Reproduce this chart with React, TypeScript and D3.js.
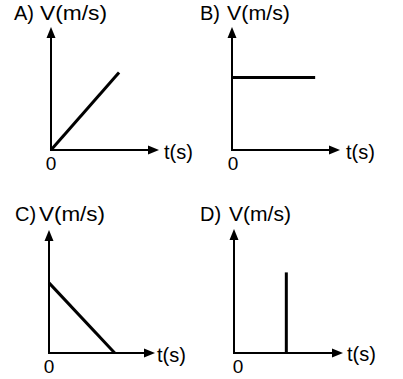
import React from "react";
import * as d3 from "d3";

const panelLabels = ["A)", "B)", "C)", "D)"];
const yAxisLabel = "V(m/s)";
const xAxisLabel = "t(s)";
const originLabel = "0";

// series values (arbitrary units, domain 0..10)
const seriesT = [
  [0, 6.3],
  [0, 7.7],
  [0, 6.2],
  [4.8, 4.8],
];
const seriesV = [
  [0, 6.3],
  [5.9, 5.9],
  [5.7, 0],
  [0, 6.5],
];

// layout (pixels)
const panels = [
  { ox: 51, oy: 150, xTip: 159, yTip: 27, lab: [14, 20], vlab: [40, 20, 67], tlab: [164, 159], zero: [51, 170] },
  { ox: 232, oy: 150, xTip: 340, yTip: 27, lab: [200, 20], vlab: [227, 20, 63], tlab: [346, 159], zero: [233, 170] },
  { ox: 49, oy: 353, xTip: 155, yTip: 230, lab: [15, 221], vlab: [39, 221, 66], tlab: [157, 362], zero: [49, 373] },
  { ox: 234, oy: 353, xTip: 343, yTip: 229, lab: [200, 221], vlab: [229, 221, 62], tlab: [347, 361], zero: [238, 373] },
];

const FONT = "'Liberation Sans', Arial, sans-serif";

export default function App() {
  const headLen = 11;
  const headHalf = 4.5;
  return (
    <svg width={403} height={379} style={{ position: "absolute", left: 0, top: 0, background: "#fff" }}>
      <rect width={403} height={379} fill="#fff" />
      {panels.map((p, i) => {
        const xs = d3.scaleLinear().domain([0, 10]).range([p.ox, p.xTip]);
        const ys = d3.scaleLinear().domain([0, 10]).range([p.oy, p.yTip]);
        const line = d3
          .line<number>()
          .x((_, j) => xs(seriesT[i][j]))
          .y((_, j) => ys(seriesV[i][j]));
        return (
          <g key={i}>
            {/* y axis */}
            <line x1={p.ox} y1={p.oy + 1} x2={p.ox} y2={p.yTip + headLen - 1} stroke="#000" strokeWidth={2} />
            <path
              d={`M${p.ox},${p.yTip} L${p.ox - headHalf},${p.yTip + headLen} L${p.ox + headHalf},${p.yTip + headLen} Z`}
              fill="#000"
            />
            {/* x axis */}
            <line x1={p.ox - 1} y1={p.oy} x2={p.xTip - headLen + 1} y2={p.oy} stroke="#000" strokeWidth={2} />
            <path
              d={`M${p.xTip},${p.oy} L${p.xTip - headLen},${p.oy - headHalf} L${p.xTip - headLen},${p.oy + headHalf} Z`}
              fill="#000"
            />
            {/* data */}
            <path d={line(seriesT[i]) || ""} fill="none" stroke="#000" strokeWidth={3} />
            {/* labels */}
            <text x={p.lab[0]} y={p.lab[1]} fontFamily={FONT} fontSize={20} fill="#000">
              {panelLabels[i]}
            </text>
            <text
              x={p.vlab[0]}
              y={p.vlab[1]}
              fontFamily={FONT}
              fontSize={20}
              fill="#000"
              textLength={p.vlab[2]}
              lengthAdjust="spacingAndGlyphs"
            >
              {yAxisLabel}
            </text>
            <text x={p.tlab[0]} y={p.tlab[1]} fontFamily={FONT} fontSize={20} fill="#000">
              {xAxisLabel}
            </text>
            <text x={p.zero[0]} y={p.zero[1]} fontFamily={FONT} fontSize={19} fill="#000" textAnchor="middle">
              {originLabel}
            </text>
          </g>
        );
      })}
    </svg>
  );
}
